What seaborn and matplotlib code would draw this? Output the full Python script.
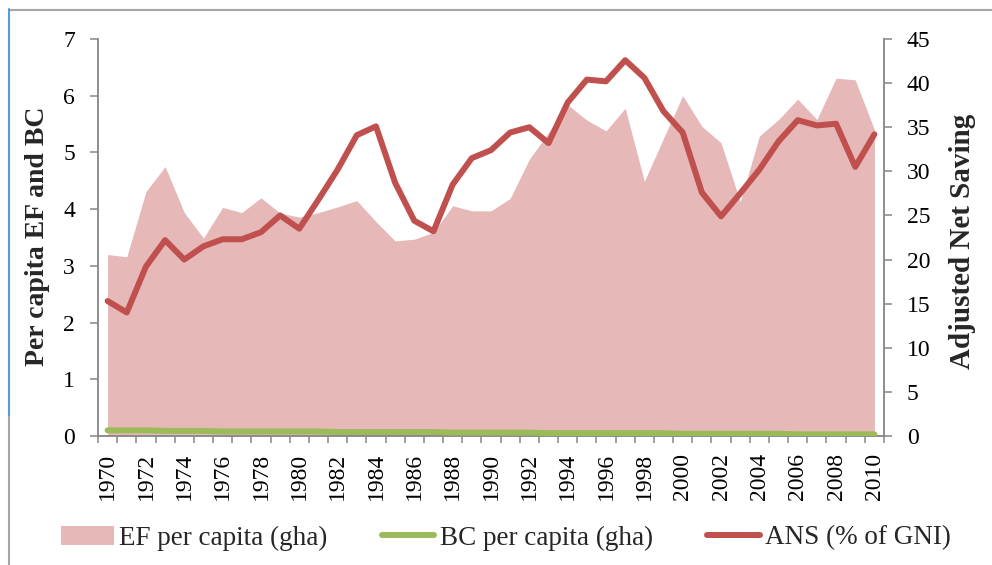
import numpy as np
import pandas as pd
import matplotlib
matplotlib.use("Agg")
import matplotlib.pyplot as plt
import seaborn as sns
from matplotlib.lines import Line2D
from matplotlib.patches import Patch

years = list(range(1970, 2011))
ef = [3.20, 3.16, 4.31, 4.75, 3.94, 3.49, 4.03, 3.94, 4.20, 3.93,
      3.86, 3.94, 4.04, 4.15, 3.78, 3.44, 3.47, 3.59, 4.06, 3.97,
      3.97, 4.19, 4.88, 5.35, 5.84, 5.57, 5.38, 5.78, 4.49, 5.25,
      6.00, 5.46, 5.17, 4.13, 5.29, 5.58, 5.94, 5.58, 6.31, 6.28,
      5.40]
bc = [0.10, 0.10, 0.10, 0.09, 0.09, 0.09, 0.08, 0.08, 0.08, 0.08,
      0.08, 0.08, 0.07, 0.07, 0.07, 0.07, 0.07, 0.07, 0.06, 0.06,
      0.06, 0.06, 0.06, 0.05, 0.05, 0.05, 0.05, 0.05, 0.05, 0.05,
      0.04, 0.04, 0.04, 0.04, 0.04, 0.04, 0.03, 0.03, 0.03, 0.03,
      0.03]
ans = [15.3, 14.0, 19.2, 22.2, 20.0, 21.5, 22.3, 22.3, 23.1, 25.0,
       23.5, 26.8, 30.2, 34.1, 35.1, 28.7, 24.4, 23.2, 28.5, 31.5,
       32.4, 34.4, 35.0, 33.2, 37.8, 40.4, 40.2, 42.6, 40.6, 36.8,
       34.4, 27.6, 24.9, 27.5, 30.2, 33.4, 35.8, 35.2, 35.4, 30.5,
       34.2]
labels = ["EF per capita (gha)", "BC per capita (gha)", "ANS (% of GNI)"]
left_label = "Per capita EF and BC"
right_label = "Adjusted Net Saving"

df = pd.DataFrame({"year": years, "ef": ef, "bc": bc, "ans": ans})

sns.set_theme(style="white")
plt.rcParams["font.family"] = ["Liberation Serif", "DejaVu Serif"]

FILL = "#E6B8B7"
GREEN = "#9BBB59"
RED = "#C0504D"
GRAY = "#868686"

fig = plt.figure(figsize=(9.92, 5.65), dpi=100)
W, H = 992, 565
ax = fig.add_axes([98 / W, 1 - 436 / H, (884 - 98) / W, (436 - 39) / H])
ax.fill_between(df["year"], 0, df["ef"], color=FILL, lw=0, zorder=1)
sns.lineplot(data=df, x="year", y="bc", ax=ax, color=GREEN, lw=4.3,
             legend=False, zorder=3, solid_capstyle="round")
ax.set_xlim(1969.5, 2010.5)
ax.set_ylim(0, 7)
ax.set_xlabel("")
ax.set_ylabel("")

ax2 = ax.twinx()
sns.lineplot(data=df, x="year", y="ans", ax=ax2, color=RED, lw=4.3,
             legend=False, zorder=4, solid_capstyle="round")
ax2.set_ylim(0, 45)
ax2.set_ylabel("")
ax2.set_xlim(1969.5, 2010.5)

for a in (ax, ax2):
    a.set_facecolor("none")
    for s in a.spines.values():
        s.set_visible(False)
ax.spines["left"].set_visible(True)
ax.spines["bottom"].set_visible(True)
ax2.spines["right"].set_visible(True)
for a, s in ((ax, "left"), (ax, "bottom"), (ax2, "right")):
    a.spines[s].set_color(GRAY)
    a.spines[s].set_linewidth(1.3)

ax.set_yticks(range(0, 8))
ax.tick_params(axis="y", left=True, direction="out", length=5.5, width=1.1,
               color=GRAY, pad=11, labelsize=17, labelcolor="black")
ax2.set_yticks(range(0, 50, 5))
ax2.tick_params(axis="y", right=True, direction="out", length=5.5, width=1.1,
                color=GRAY, pad=11, labelsize=17, labelcolor="black")

ax.set_xticks(years[::2])
ax.set_xticklabels([str(y) for y in years[::2]], rotation=90)
ax.set_xticks(np.arange(1969.5, 2011, 1), minor=True)
ax.tick_params(axis="x", which="major", bottom=True, length=0, pad=12,
               labelsize=17, labelcolor="black")
ax.tick_params(axis="x", which="minor", bottom=True, direction="out",
               length=5, width=1.1, color=GRAY)

fig.text(38 / W, 1 - 236 / H, left_label, rotation=90, ha="center",
         va="center", fontsize=20, fontweight="bold")
fig.text(963 / W, 1 - 241 / H, right_label, rotation=90, ha="center",
         va="center", fontsize=21, fontweight="bold")

handles = [Patch(facecolor=FILL, edgecolor="none"),
           Line2D([], [], color=GREEN, lw=4.3),
           Line2D([], [], color=RED, lw=4.3)]
fig.legend(handles, labels, loc="center", bbox_to_anchor=(506 / W, 1 - 538 / H),
           ncol=3, frameon=False, fontsize=19.5, handlelength=1.95,
           handletextpad=0.2, columnspacing=2.0)

# page border artefacts
fig.add_artist(Line2D([9 / W, 1], [1 - 9.5 / H] * 2, color="#A6A6A6", lw=1.5,
                      transform=fig.transFigure))
fig.add_artist(Line2D([9 / W] * 2, [1 - 9 / H, 1 - 417 / H], color="#5B9BD5",
                      lw=1.5, transform=fig.transFigure))
fig.add_artist(Line2D([9 / W] * 2, [1 - 417 / H, 0], color="#A6A6A6",
                      lw=1.5, transform=fig.transFigure))

fig.savefig("out.png", dpi=100)
